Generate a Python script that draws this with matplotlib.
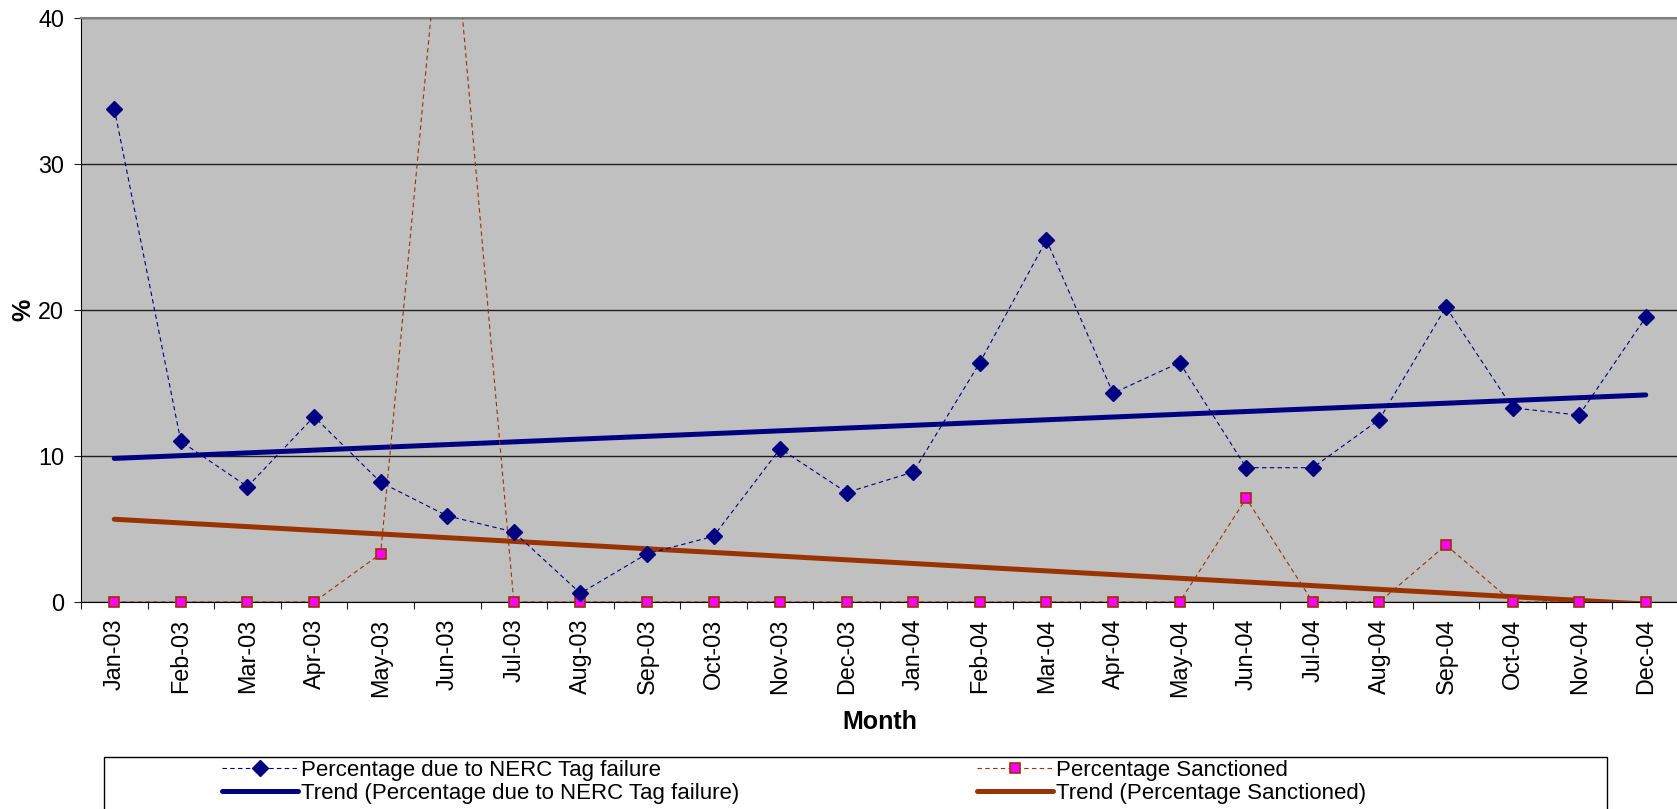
import matplotlib
matplotlib.use("Agg")
import matplotlib.pyplot as plt
import numpy as np
from matplotlib.lines import Line2D
from matplotlib.patches import Rectangle

plt.rcParams['font.family'] = ['Liberation Sans', 'DejaVu Sans']

months = ["Jan-03", "Feb-03", "Mar-03", "Apr-03", "May-03", "Jun-03",
          "Jul-03", "Aug-03", "Sep-03", "Oct-03", "Nov-03", "Dec-03",
          "Jan-04", "Feb-04", "Mar-04", "Apr-04", "May-04", "Jun-04",
          "Jul-04", "Aug-04", "Sep-04", "Oct-04", "Nov-04", "Dec-04"]

nerc_fail = [33.8, 11.0, 7.9, 12.7, 8.2, 5.9, 4.8, 0.6, 3.3, 4.5, 10.5, 7.5,
             8.9, 16.4, 24.8, 14.3, 16.4, 9.2, 9.2, 12.5, 20.2, 13.3, 12.8, 19.5]

sanctioned = [0, 0, 0, 0, 3.3, 52.0, 0, 0, 0, 0, 0, 0,
              0, 0, 0, 0, 0, 7.1, 0, 0, 3.9, 0, 0, 0]

NAVY = "#000080"
BROWN = "#993300"
MAGENTA = "#FF00FF"
W, H = 1677, 809

fig = plt.figure(figsize=(W / 100, H / 100), dpi=100)
ax = fig.add_axes([81 / W, 1 - 602 / H, (1679 - 81) / W, (602 - 18) / H])
ax.set_facecolor("#C0C0C0")

x = np.arange(len(months))
nerc = np.array(nerc_fail)
sanc = np.array(sanctioned)

# linear trend lines
nerc_fit = np.polyval(np.polyfit(x, nerc, 1), x)
sanc_fit = np.polyval(np.polyfit(x, sanc, 1), x)

ax.plot(x, nerc_fit, color=NAVY, lw=3.6, solid_capstyle="round", zorder=3)
ax.plot(x, sanc_fit, color=BROWN, lw=3.6, solid_capstyle="round", zorder=3)

# dashed series lines (clipped to plot area)
ax.plot(x, nerc, color=NAVY, lw=0.8, dashes=(4, 3), zorder=4)
ax.plot(x, sanc, color=BROWN, lw=0.8, dashes=(4, 3), zorder=4)

# markers drawn unclipped so points on the axis show in full
ymax = 40
m = sanc <= ymax
ax.plot(x[m], sanc[m], ls="none", marker="s", ms=7.5, mfc=MAGENTA,
        mec=BROWN, mew=1.2, clip_on=False, zorder=5)
m = nerc <= ymax
ax.plot(x[m], nerc[m], ls="none", marker="D", ms=8, mfc=NAVY, mec=NAVY,
        clip_on=False, zorder=6)

ax.set_xlim(-0.5, len(months) - 0.5)
ax.set_ylim(0, ymax)
ax.set_yticks([0, 10, 20, 30, 40])
ax.grid(axis="y", color="#202020", lw=1.0)
ax.set_axisbelow(True)

ax.set_xticks(x)
ax.set_xticklabels(months, rotation=90)
ax.set_xticks(np.arange(len(months) + 1) - 0.5, minor=True)
ax.tick_params(axis="x", which="major", length=0, pad=12, labelsize=16.8)
ax.tick_params(axis="x", which="minor", length=5, width=0.8, color="#202020",
               direction="out")
ax.tick_params(axis="y", length=5, width=0.8, pad=7, labelsize=16.8,
               direction="out", color="#202020")

ax.spines["right"].set_visible(False)
ax.spines["top"].set_color("#808080")
ax.spines["top"].set_linewidth(1.5)
ax.spines["left"].set_color("black")
ax.spines["bottom"].set_color("black")

ax.set_xlabel("Month", fontsize=18, fontweight="bold")
ax.xaxis.set_label_coords(0.5, (602 - 722) / 584)
ax.xaxis.label.set_va("center")
ax.set_ylabel("%", fontsize=18, fontweight="bold")
ax.yaxis.set_label_coords((23 - 81) / 1598, 0.5)
ax.yaxis.label.set_va("center")

# legend box along the bottom edge
fig.add_artist(Rectangle((104 / W, -0.02), (1607 - 104) / W, 0.02 + 1 - 757 / H,
                         transform=fig.transFigure, facecolor="white",
                         edgecolor="black", lw=1.0, zorder=1))

h_nerc = Line2D([], [], color=NAVY, lw=0.8, dashes=(4, 3), marker="D", ms=8,
                mfc=NAVY, mec=NAVY)
h_nerc_tr = Line2D([], [], color=NAVY, lw=3.6, solid_capstyle="round")
h_sanc = Line2D([], [], color=BROWN, lw=0.8, dashes=(4, 3), marker="s", ms=7.5,
                mfc=MAGENTA, mec=BROWN, mew=1.2)
h_sanc_tr = Line2D([], [], color=BROWN, lw=3.6, solid_capstyle="round")

leg_kw = dict(loc="upper left", frameon=False, fontsize=16, numpoints=1,
              handlelength=3.4, handletextpad=0.15, labelspacing=0.1,
              borderpad=0, borderaxespad=0)
leg1 = fig.legend([h_nerc, h_nerc_tr],
                  ["Percentage due to NERC Tag failure",
                   "Trend (Percentage due to NERC Tag failure)"],
                  bbox_to_anchor=(222 / W, 1 - 760 / H), **leg_kw)
leg2 = fig.legend([h_sanc, h_sanc_tr],
                  ["Percentage Sanctioned", "Trend (Percentage Sanctioned)"],
                  bbox_to_anchor=(977 / W, 1 - 760 / H), **leg_kw)
leg1.set_zorder(2)
leg2.set_zorder(2)

fig.savefig("out.png", dpi=100)
